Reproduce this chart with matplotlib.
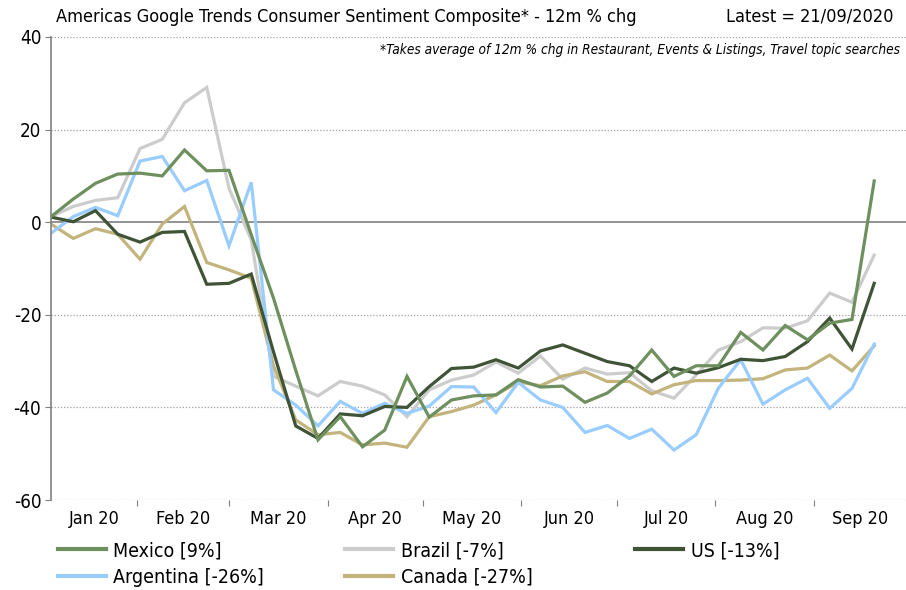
import pandas as pd
import numpy as np
import matplotlib
matplotlib.use("Agg")
import matplotlib.pyplot as plt

# weekly points, Jan 5 2020 -> Sep 20 2020
weeks = pd.date_range("2020-01-05", periods=38, freq="7D")

mexico = [1.2, 5.0, 8.4, 10.4, 10.6, 10.0, 15.6, 11.1, 11.2, -2.7,
          -16.4, -32.0, -47.0, -42.0, -48.5, -44.9, -33.3, -42.1, -38.4, -37.5,
          -37.3, -34.0, -35.6, -35.4, -38.9, -36.9, -33.2, -27.6, -33.3, -31.0,
          -31.0, -23.8, -27.6, -22.3, -25.4, -21.8, -21.0, 8.9]
brazil = [1.2, 3.4, 4.7, 5.3, 15.9, 17.9, 25.8, 29.1, 7.3, -3.8,
          -33.3, -35.4, -37.5, -34.4, -35.4, -37.3, -42.0, -36.2, -34.1, -33.0,
          -30.2, -32.6, -28.9, -33.9, -31.5, -32.8, -32.5, -36.4, -38.0, -33.0,
          -27.6, -25.8, -22.8, -22.9, -21.3, -15.3, -17.3, -7.1]
us = [1.1, 0.1, 2.5, -2.6, -4.3, -2.2, -2.0, -13.4, -13.2, -11.2,
      -28.0, -44.0, -46.7, -41.4, -41.8, -39.8, -40.0, -35.5, -31.6, -31.3,
      -29.7, -31.5, -27.8, -26.5, -28.3, -30.1, -31.0, -34.4, -31.5, -32.6,
      -31.4, -29.6, -29.9, -29.0, -25.8, -20.7, -27.4, -13.2]
argentina = [-2.4, 1.2, 3.2, 1.4, 13.2, 14.2, 6.8, 9.0, -5.1, 8.6,
             -36.2, -39.5, -44.0, -38.7, -41.3, -39.1, -41.3, -39.7, -35.5, -35.6,
             -41.1, -34.6, -38.4, -40.0, -45.4, -43.9, -46.7, -44.7, -49.2, -45.9,
             -35.8, -29.7, -39.3, -36.2, -33.7, -40.2, -35.9, -26.3]
canada = [-0.4, -3.5, -1.4, -2.6, -8.0, -0.4, 3.4, -8.7, -10.3, -12.1,
          -31.0, -42.7, -45.9, -45.4, -48.1, -47.7, -48.6, -42.0, -40.9, -39.5,
          -37.3, -34.5, -35.3, -33.2, -32.3, -34.4, -34.4, -37.1, -35.1, -34.2,
          -34.2, -34.1, -33.8, -31.9, -31.5, -28.7, -32.1, -26.7]

labels = ["Mexico [9%]", "Brazil [-7%]", "US [-13%]", "Argentina [-26%]", "Canada [-27%]"]
colors = ["#6E8F5E", "#CCCCCC", "#3F5436", "#99CCFF", "#C2B47C"]

plt.rcParams["font.family"] = ["DejaVu Sans"]
plt.rcParams["font.stretch"] = "condensed"
plt.rcParams["axes.unicode_minus"] = False

fig = plt.figure(figsize=(9.06, 5.9), dpi=100)
ax = fig.add_axes([0.0563, 0.1525, 0.9437, 0.7848])

series = [mexico, brazil, us, argentina, canada]
# draw order roughly like the reference
order = [1, 4, 3, 2, 0]
lines = {}
for i in order:
    ln, = ax.plot(weeks, series[i], color=colors[i], linewidth=2.3, label=labels[i],
                  solid_joinstyle="miter")
    lines[i] = ln

ax.set_ylim(-60, 40)
ax.set_yticks(np.arange(-60, 41, 20))
xmin = pd.Timestamp("2020-01-05")
xmax = pd.Timestamp("2020-09-30")
ax.set_xlim(xmin, xmax)

# gridlines
for v in [-60, -40, -20, 20, 40]:
    ax.axhline(v, color="#A0A0A0", linewidth=0.9, linestyle=(0, (1, 1.5)), zorder=0)
ax.axhline(0, color="#808080", linewidth=1.2, zorder=0.5)

for s in ["top", "right", "bottom"]:
    ax.spines[s].set_visible(False)
ax.spines["left"].set_color("#808080")
ax.spines["left"].set_linewidth(1.2)

# month boundaries as tick marks, labels centered in each month
month_starts = pd.date_range("2020-02-01", "2020-09-01", freq="MS")
ax.set_xticks(list(month_starts))
ax.set_xticklabels([])
ax.tick_params(axis="x", which="major", length=4, color="#808080", direction="out")
bounds = [xmin] + list(month_starts) + [xmax]
centers = [bounds[j] + (bounds[j + 1] - bounds[j]) / 2 for j in range(len(bounds) - 1)]
ax.set_xticks(centers, minor=True)
ax.set_xticklabels([c.strftime("%b %y") for c in month_starts.insert(0, pd.Timestamp("2020-01-01"))],
                   minor=True, fontsize=13)
ax.tick_params(axis="x", which="minor", length=0, pad=7)
ax.tick_params(axis="y", length=4, color="#808080", labelsize=13.5, pad=3)

fig.text(0.062, 0.972, "Americas Google Trends Consumer Sentiment Composite* - 12m % chg",
         fontsize=13, ha="left", va="center")
fig.text(0.986, 0.972, "Latest = 21/09/2020", fontsize=13, ha="right", va="center")
fig.text(0.993, 0.915, "*Takes average of 12m % chg in Restaurant, Events & Listings, Travel topic searches",
         fontsize=9.8, style="italic", ha="right", va="center")

# legend in three columns
cols = [([0, 3], 0.064), ([1, 4], 0.381), ([2], 0.701)]
for idx, x0 in cols:
    leg = fig.legend(handles=[lines[i] for i in idx], loc="upper left",
                     bbox_to_anchor=(x0, 0.083), frameon=False, fontsize=14,
                     handlelength=2.45, handletextpad=0.4, labelspacing=0.4,
                     borderaxespad=0, borderpad=0)
    for h in leg.legend_handles:
        h.set_linewidth(3)

fig.savefig("out.png", dpi=100)
